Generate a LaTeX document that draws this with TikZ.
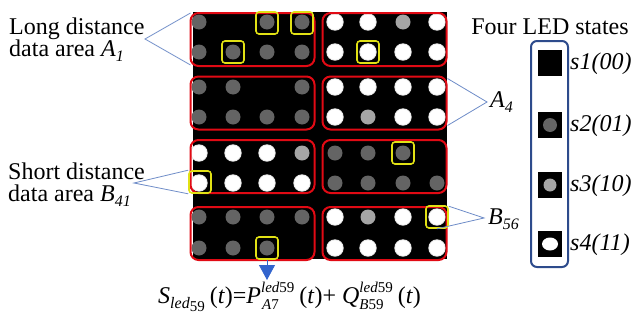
\documentclass[tikz,border=0pt]{standalone}
\usepackage{fontspec}
\setmainfont{Liberation Serif}
\newfontfamily\tnr{Liberation Serif}
\usetikzlibrary{arrows.meta,calc}
\definecolor{ledtwo}{RGB}{100,100,100}
\definecolor{ledthree}{RGB}{165,165,165}
\definecolor{boxred}{RGB}{225,10,20}
\definecolor{boxyel}{RGB}{225,225,20}
\definecolor{callblue}{RGB}{110,140,200}
\definecolor{legblue}{RGB}{45,75,140}
\definecolor{arrblue}{RGB}{50,100,205}
\newcommand{\sbx}[1]{\raisebox{-5pt}{\fontsize{16}{16}\selectfont #1}}
\newcommand{\sbl}[1]{\raisebox{-6pt}{\fontsize{15}{15}\selectfont #1}}
\newcommand{\sbb}[1]{\raisebox{-3pt}{\fontsize{15}{15}\selectfont #1}}
\newcommand{\spx}[1]{\raisebox{11pt}{\fontsize{15}{15}\selectfont #1}}
\tikzset{
  redbox/.style={draw=boxred,line width=2pt,rounded corners=8pt,minimum width=124pt,minimum height=53pt,inner sep=0pt},
  yelbox/.style={draw=boxyel,line width=1.6pt,rounded corners=3pt,minimum size=22pt,inner sep=0pt},
  callout/.style={draw=callblue,line width=0.8pt},
  lbl/.style={font=\tnr\fontsize{24}{24}\selectfont,inner sep=0pt},
  legsq/.style={fill=black,minimum width=24pt,minimum height=26pt,inner sep=0pt},
  leglbl/.style={font=\tnr\fontsize{24}{24}\selectfont\itshape,inner sep=0pt,anchor=west}
}
\begin{document}
\begin{tikzpicture}[x=1pt,y=-1pt]
\useasboundingbox[fill=white] (0,0) rectangle (633,327);
% black panel
\fill[black] (193,12) rectangle (447,259);
% LEDs
\foreach \yy/\states in {22/{1,0,1,1,3,3,2,3},52/{1,1,1,1,3,3,3,3},87/{1,1,0,1,3,3,3,3},117/{1,1,1,1,3,2,3,3},153/{3,3,3,2,1,1,1,0},183/{3,3,3,3,1,1,1,1},217/{1,1,1,1,3,2,3,3},248/{1,1,1,0,3,3,3,3}}{
  \foreach \xx [count=\i] in {199,233,267,302,335,368,403,437}{
    \pgfmathtruncatemacro{\st}{{\states}[\i-1]}
    \ifnum\st=1 \fill[ledtwo] (\xx,\yy) circle (7.5pt);\fi
    \ifnum\st=2 \fill[ledthree] (\xx,\yy) circle (7.5pt);\fi
    \ifnum\st=3 \fill[white!80!gray] (\xx,\yy) circle (8.7pt); \fill[white] (\xx,\yy) circle (7.8pt);\fi
  }
}
% red areas
\node[redbox] (rA1) at (252.5,39.5) {};
\node[redbox] (rA2) at (384.5,39.5) {};
\node[redbox] (rA3) at (252.5,103) {};
\node[redbox] (rA4) at (384.5,103) {};
\node[redbox] (rB41) at (252.5,166.5) {};
\node[redbox] (rB42) at (384.5,166.5) {};
\node[redbox] (rA7) at (252.5,233.5) {};
\node[redbox] (rB56) at (384.5,233.5) {};
% yellow boxes
\node[yelbox] (y1) at (267,23) {};
\node[yelbox] (y2) at (302,23) {};
\node[yelbox] (y3) at (233,52) {};
\node[yelbox] (y4) at (368,52) {};
\node[yelbox] (y5) at (403,153) {};
\node[yelbox] (yB41) at (200,182) {};
\node[yelbox] (yB56) at (437,217) {};
\node[yelbox] (yA7) at (267,248) {};
% labels
\node[lbl,align=left,anchor=west] (lA1) at (9,40) {Long distance\\[-2pt]data area \textit{A}\sbx{\textit{1}}};
\node[lbl,align=left,anchor=west] (lB41) at (8,185) {Short distance\\[-2pt]data area \textit{B}\sbx{\textit{41}}};
\node[lbl,anchor=west] (lA4) at (490,102) {\textit{A}\sbx{\textit{4}}};
\node[lbl,anchor=west] (lB56) at (488,219) {\textit{B}\sbx{\textit{56}}};
\coordinate (pA1) at (145,39);
\coordinate (pB41) at (134,183);
\coordinate (pA4) at (487,102);
\coordinate (pB56) at (484,218);
\draw[callout] ($(rA1.north west)+(1,1)$) -- (pA1) -- ($(rA1.south west)+(1,-2)$);
\draw[callout] (yB41.north west) -- (pB41) -- (yB41.south west);
\draw[callout] ($(rA4.north east)+(0,3)$) -- (pA4) -- ($(rA4.south east)+(0,-5)$);
\draw[callout] ($(yB56.north east)+(0,1)$) -- (pB56) -- (yB56.south);
% arrow
\coordinate (arrTip) at (267,280);
\draw[draw=arrblue,line width=0.8pt,-{Triangle[width=16pt,length=15pt]},fill=arrblue] (yA7.south) -- (arrTip);
% formula
\node[lbl,anchor=base west] (formula) at (158,303) {\textit{S}\sbx{\textit{led}\sbb{59}}\hspace{5pt}(\textit{t})=\textit{P}\makebox[0pt][l]{\hspace{1pt}\sbl{\textit{A}7}}\spx{\textit{led}59}\hspace{5pt}(\textit{t})+\hspace{6pt}\textit{Q}\makebox[0pt][l]{\sbl{\textit{B}59}}\spx{\textit{led}59}\hspace{5pt}(\textit{t})};
% legend
\node[lbl] (legtitle) at (550,27) {Four LED states};
\draw[draw=legblue,line width=2pt,rounded corners=6pt] (531,41) rectangle (568,267);
\node[legsq] (q1) at (550,63) {};
\node[legsq] (q2) at (550,125) {};
\fill[ledtwo] (q2) circle (7pt);
\node[legsq] (q3) at (550,185) {};
\fill[ledthree] (q3) circle (6.5pt);
\node[legsq] (q4) at (550,244) {};
\fill[white] (q4) ellipse (8pt and 6.5pt);
\node[leglbl] (l1) at (570,64) {s1(00)};
\node[leglbl] (l2) at (570,126) {s2(01)};
\node[leglbl] (l3) at (570,186) {s3(10)};
\node[leglbl] (l4) at (570,245) {s4(11)};
\end{tikzpicture}
\end{document}
